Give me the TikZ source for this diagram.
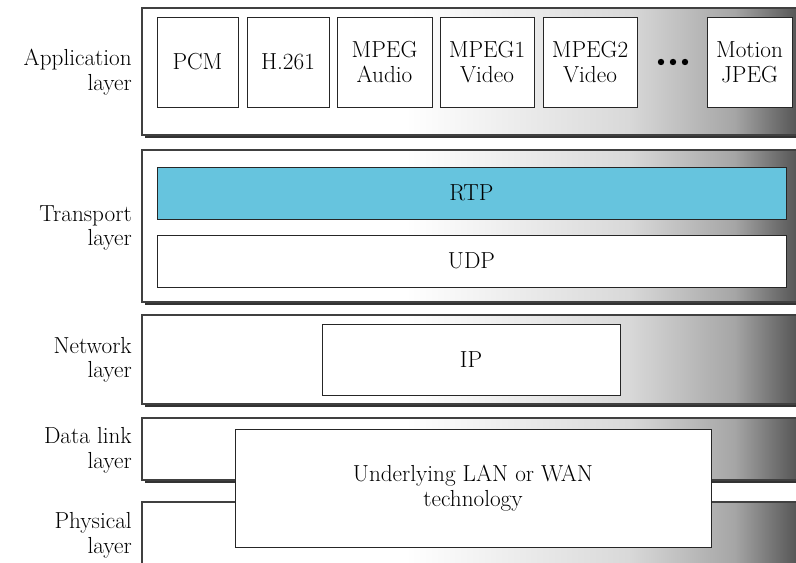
\documentclass[tikz,border=0pt]{standalone}
\usetikzlibrary{fit,shadows}
\pgfdeclarehorizontalshading{layershade}{100bp}{color(0bp)=(white); color(45bp)=(white); color(62bp)=(black!15); color(70bp)=(black!35); color(75bp)=(black!68); color(100bp)=(black!68)}
\definecolor{rtpblue}{RGB}{102,196,222}

\begin{document}
\begin{tikzpicture}[x=0.025cm,y=-0.025cm,font=\fontsize{16.5}{17.5}\selectfont,
  layerbox/.style={draw=black!75,line width=0.8pt,inner sep=0pt,shading=layershade,
    drop shadow={shadow xshift=0.075cm,shadow yshift=-0.075cm,opacity=1,fill=black!80}},
  proto/.style 2 args={draw=black!85,line width=0.7pt,fill=white,inner sep=0pt,align=center,
    minimum width=#1*0.025cm,minimum height=#2*0.025cm},
  lbl/.style={anchor=east,align=right,inner sep=0pt}]
\clip (0,0) rectangle (796,563);

% layer frames
\node[layerbox,fit={(142,8) (800,135)}] (app) {};
\node[layerbox,fit={(142,150) (800,302)}] (trans) {};
\node[layerbox,fit={(142,315) (800,404)}] (net) {};
\node[layerbox,fit={(142,418) (800,480)}] (link) {};
\node[layerbox,fit={(142,502) (800,620)}] (phys) {};

% layer names
\node[lbl] (appl) at (132,72) {Application\\layer};
\node[lbl] (transl) at (132,228) {Transport\\layer};
\node[lbl] (netl) at (132,360) {Network\\layer};
\node[lbl] (linkl) at (132,450) {Data link\\layer};
\node[lbl] (physl) at (132,535) {Physical\\layer};

% application protocols
\node[proto={81}{90}] (pcm) at (197.5,62) {PCM};
\node[proto={82}{90}] (h261) at (288,62) {H.261};
\node[proto={95}{90}] (mpega) at (384.5,62) {MPEG\\Audio};
\node[proto={94}{90}] (mpeg1) at (487,62) {MPEG1\\Video};
\node[proto={94}{90}] (mpeg2) at (590,62) {MPEG2\\Video};
\node[proto={85}{90}] (mjpeg) at (749.5,62) {Motion\\JPEG};
\foreach \x in {661,673,685}
  \fill (\x,62) circle (0.08cm);

% transport protocols
\node[proto={629}{52},fill=rtpblue] (rtp) at (471.5,193) {RTP};
\node[proto={629}{52}] (udp) at (471.5,261) {UDP};

% network
\node[proto={298}{71}] (ip) at (471,359.5) {IP};

% data link and physical
\node[proto={476}{118}] (lan) at (473,488) {Underlying LAN or WAN\\technology};
\end{tikzpicture}
\end{document}
